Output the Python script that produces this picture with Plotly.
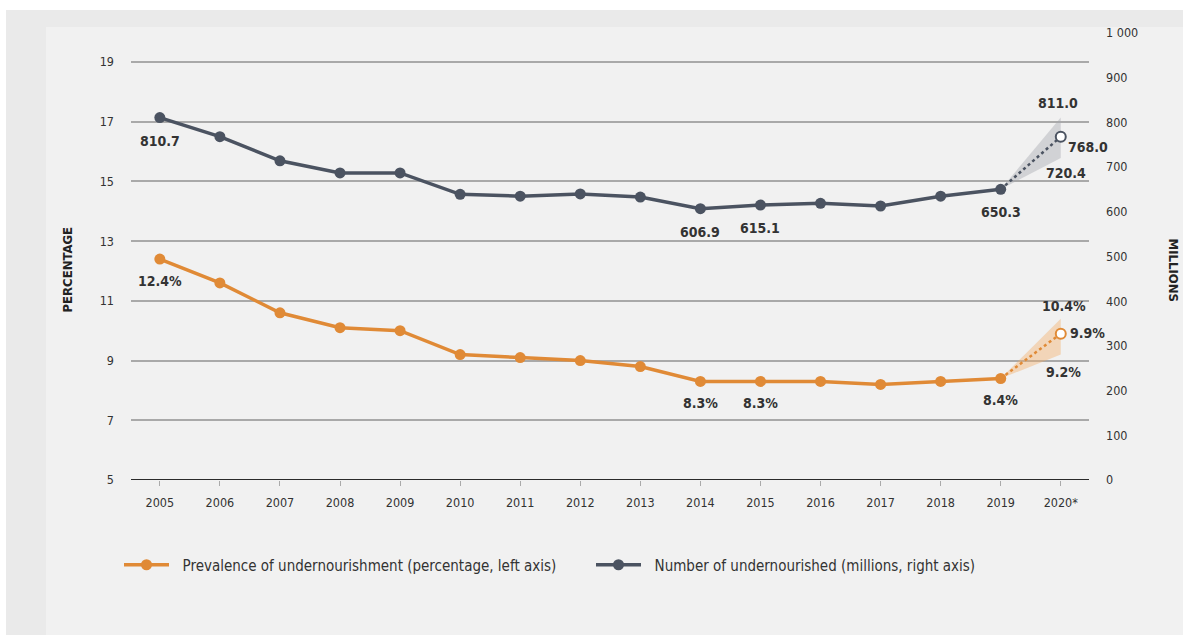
import plotly.graph_objects as go

# ---------------- data ----------------
years = [2005, 2006, 2007, 2008, 2009, 2010, 2011, 2012, 2013, 2014, 2015, 2016, 2017, 2018, 2019]
prevalence = [12.4, 11.6, 10.6, 10.1, 10.0, 9.2, 9.1, 9.0, 8.8, 8.3, 8.3, 8.3, 8.2, 8.3, 8.4]
number = [810.7, 768.0, 714.0, 687.0, 687.0, 639.0, 635.0, 640.0, 633.0, 606.9, 615.1, 619.0, 613.0, 635.0, 650.3]

proj_year = 2020
prev_proj = 9.9
prev_low, prev_high = 9.2, 10.4
num_proj = 768.0
num_low, num_high = 720.4, 811.0

labelled_years = [2005, 2014, 2015, 2019]

x_ticks = [2005, 2006, 2007, 2008, 2009, 2010, 2011, 2012, 2013, 2014, 2015, 2016, 2017, 2018, 2019, 2020]
x_ticktext = ["2005", "2006", "2007", "2008", "2009", "2010", "2011", "2012", "2013", "2014",
              "2015", "2016", "2017", "2018", "2019", "2020*"]
left_ticks = [5, 7, 9, 11, 13, 15, 17, 19]
right_ticks = [0, 100, 200, 300, 400, 500, 600, 700, 800, 900, 1000]
right_ticktext = ["0", "100", "200", "300", "400", "500", "600", "700", "800", "900", "1 000"]

# ---------------- style ----------------
ORANGE = "#e08a36"
GREY = "#4b5361"
FONT = "Liberation Sans Narrow, DejaVu Sans Condensed, Arial Narrow, sans-serif"
TXT = "#333333"

W, H = 1183, 635
L, T = 131, 33
PW, PH = 958, 447
R = W - L - PW
B = H - T - PH


def px(xp):  # pixel x -> paper
    return (xp - L) / PW


def py(yp):  # pixel y -> paper
    return (T + PH - yp) / PH


fig = go.Figure()

# projection bands
fig.add_trace(go.Scatter(
    x=[years[-1], proj_year, proj_year, years[-1]],
    y=[number[-1], num_high, num_low, number[-1]],
    fill="toself", fillcolor="rgba(165,167,175,0.42)", line=dict(width=0),
    mode="lines", yaxis="y2", showlegend=False, hoverinfo="skip"))
fig.add_trace(go.Scatter(
    x=[years[-1], proj_year, proj_year, years[-1]],
    y=[prevalence[-1], prev_high, prev_low, prevalence[-1]],
    fill="toself", fillcolor="rgba(242,175,105,0.42)", line=dict(width=0),
    mode="lines", showlegend=False, hoverinfo="skip"))

# dotted projections
fig.add_trace(go.Scatter(
    x=[years[-1], proj_year], y=[number[-1], num_proj], yaxis="y2",
    mode="lines", line=dict(color=GREY, width=2.5, dash="dot"), showlegend=False, hoverinfo="skip"))
fig.add_trace(go.Scatter(
    x=[years[-1], proj_year], y=[prevalence[-1], prev_proj],
    mode="lines", line=dict(color=ORANGE, width=2.5, dash="dot"), showlegend=False, hoverinfo="skip"))

# main series
fig.add_trace(go.Scatter(
    x=years, y=prevalence, mode="lines+markers",
    name="\u00a0\u00a0Prevalence of undernourishment (percentage, left axis)",
    line=dict(color=ORANGE, width=3.5), marker=dict(size=11, color=ORANGE)))
fig.add_trace(go.Scatter(
    x=years, y=number, mode="lines+markers", yaxis="y2",
    name="\u00a0\u00a0Number of undernourished (millions, right axis)",
    line=dict(color=GREY, width=3.5), marker=dict(size=11, color=GREY)))

# projection open circles
fig.add_trace(go.Scatter(
    x=[proj_year], y=[num_proj], yaxis="y2", mode="markers",
    marker=dict(size=10, color="white", line=dict(color=GREY, width=2)), showlegend=False))
fig.add_trace(go.Scatter(
    x=[proj_year], y=[prev_proj], mode="markers",
    marker=dict(size=10, color="white", line=dict(color=ORANGE, width=2)), showlegend=False))

annotations = []
lab_font = dict(family=FONT, size=14, color=TXT)
for yr in labelled_years:
    i = years.index(yr)
    annotations.append(dict(x=yr, y=number[i], xref="x", yref="y2", text=f"<b>{number[i]:.1f}</b>",
                            showarrow=False, yshift=-23, font=lab_font))
    annotations.append(dict(x=yr, y=prevalence[i], xref="x", yref="y", text=f"<b>{prevalence[i]:.1f}%</b>",
                            showarrow=False, yshift=-22, font=lab_font))

# projection labels
annotations += [
    dict(x=proj_year, y=num_high, xref="x", yref="y2", text=f"<b>{num_high:.1f}</b>", showarrow=False,
         yshift=14, xshift=-3, font=lab_font),
    dict(x=proj_year, y=num_proj, xref="x", yref="y2", text=f"<b>{num_proj:.1f}</b>", showarrow=False,
         xanchor="left", xshift=5, yshift=-10, font=lab_font),
    dict(x=proj_year, y=num_low, xref="x", yref="y2", text=f"<b>{num_low:.1f}</b>", showarrow=False,
         yshift=-15, xshift=5, font=lab_font),
    dict(x=proj_year, y=prev_high, xref="x", yref="y", text=f"<b>{prev_high:.1f}%</b>", showarrow=False,
         yshift=13, xshift=3, font=lab_font),
    dict(x=proj_year, y=prev_proj, xref="x", yref="y", text=f"<b>{prev_proj:.1f}%</b>", showarrow=False,
         xanchor="left", xshift=7, yshift=1, font=lab_font),
    dict(x=proj_year, y=prev_low, xref="x", yref="y", text=f"<b>{prev_low:.1f}%</b>", showarrow=False,
         yshift=-17, xshift=3, font=lab_font),
]

# axis titles
annotations += [
    dict(x=px(57), y=py(270), xref="paper", yref="paper", text="<b>PERCENTAGE</b>", textangle=-90,
         showarrow=False, font=dict(family=FONT, size=13, color="#222")),
    dict(x=px(1183), y=py(270), xref="paper", yref="paper", text="<b>MILLIONS</b>", textangle=90,
         showarrow=False, font=dict(family=FONT, size=13, color="#222")),
]

shapes = [
    dict(type="rect", xref="paper", yref="paper", x0=px(46), x1=px(1183), y0=py(635), y1=py(27),
         fillcolor="#f1f1f1", line=dict(width=0), layer="below"),
    dict(type="rect", xref="paper", yref="paper", x0=px(0), x1=px(1183), y0=py(10), y1=py(0),
         fillcolor="white", line=dict(width=0), layer="below"),
    dict(type="rect", xref="paper", yref="paper", x0=px(0), x1=px(6), y0=py(635), y1=py(0),
         fillcolor="white", line=dict(width=0), layer="below"),
    dict(type="line", xref="paper", yref="y", x0=0, x1=1, y0=5, y1=5,
         line=dict(color="#2a2a2a", width=2.2), layer="above"),
]

fig.update_layout(
    width=W, height=H,
    margin=dict(l=L, r=R, t=T, b=B),
    paper_bgcolor="#eaeaea", plot_bgcolor="rgba(0,0,0,0)",
    font=dict(family=FONT, size=12, color=TXT),
    xaxis=dict(range=[2004.52, 2020.47], tickvals=x_ticks, ticktext=x_ticktext,
               showgrid=False, zeroline=False, showline=False,
               ticks="outside", ticklen=5, tickcolor="#aaaaaa", tickwidth=1,
               tickfont=dict(family=FONT, size=12.5, color=TXT), ticklabelstandoff=6),
    yaxis=dict(range=[5, 5 + 447 / 29.857], tickvals=left_ticks, showgrid=True, gridcolor="#a9a9a9",
               gridwidth=1.5, zeroline=False, showline=False, ticks="",
               tickfont=dict(family=FONT, size=12.5, color=TXT), ticklabelstandoff=16),
    yaxis2=dict(range=[0, 1000], overlaying="y", side="right", tickvals=right_ticks, ticktext=right_ticktext,
                showgrid=False, zeroline=False, showline=False, ticks="",
                tickfont=dict(family=FONT, size=12.5, color=TXT), ticklabelstandoff=16),
    legend=dict(orientation="h", x=px(119), y=py(565), xanchor="left", yanchor="middle",
                bgcolor="rgba(0,0,0,0)", font=dict(family=FONT, size=15, color=TXT),
                itemwidth=45, entrywidth=412, entrywidthmode="pixels", traceorder="normal"),
    annotations=annotations,
    shapes=shapes,
    showlegend=True,
)

fig.write_html(
    "out.html",
    config={"displayModeBar": False},
    post_script="document.body.style.margin='0';document.body.style.overflow='hidden';",
)
